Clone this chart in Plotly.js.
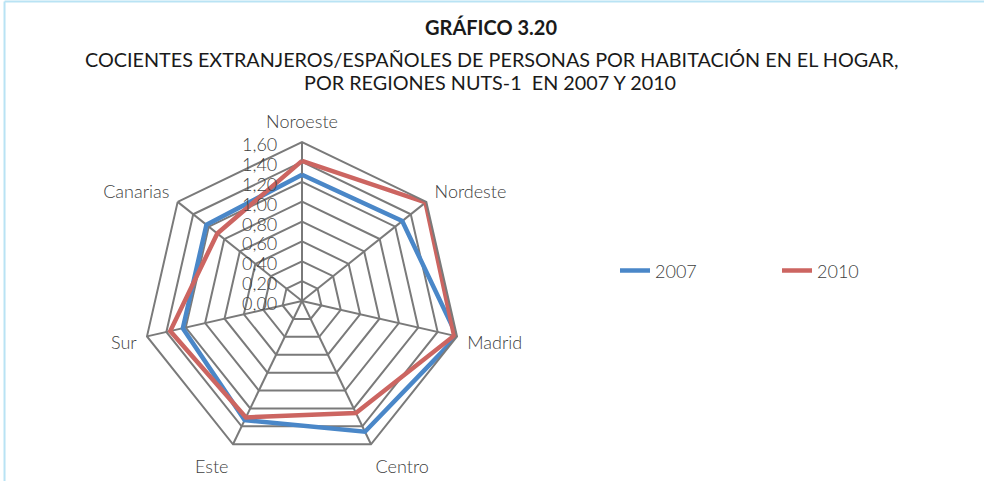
<!DOCTYPE html>
<html>
<head>
<meta charset="utf-8">
<script src="https://cdn.plot.ly/plotly-3.0.1.min.js"></script>
<style>
  html, body { margin: 0; padding: 0; background: #fff; }
  #chart { width: 984px; height: 481px; }
</style>
</head>
<body>
<div id="chart"></div>
<script>
const categories = ["Noroeste", "Nordeste", "Madrid", "Centro", "Este", "Sur", "Canarias"];
const values2007 = [1.27, 1.29, 1.60, 1.46, 1.33, 1.23, 1.23];
const values2010 = [1.41, 1.59, 1.57, 1.25, 1.30, 1.36, 1.09];
const seriesNames = ["2007", "2010"];
const radialTicks = [0, 0.2, 0.4, 0.6, 0.8, 1.0, 1.2, 1.4, 1.6];

const close = a => a.concat([a[0]]);
const FONT = "Lato, 'Open Sans', sans-serif";
const GRID = "#7a7a7a";
const TXT = "#404040";

const traces = [
  {
    type: "scatterpolar", mode: "lines", name: seriesNames[0],
    r: close(values2007), theta: close(categories),
    line: { color: "#4A87C8", width: 4.5 }
  },
  {
    type: "scatterpolar", mode: "lines", name: seriesNames[1],
    r: close(values2010), theta: close(categories),
    line: { color: "#CC6561", width: 4.5 }
  }
];

const layout = {
  width: 984, height: 481,
  margin: { l: 0, r: 0, t: 0, b: 0, autoexpand: false },
  paper_bgcolor: "#fff",
  separators: ",.",
  font: { family: FONT, color: TXT, size: 16, weight: 300 },
  showlegend: true,
  legend: {
    orientation: "h", x: 0.625, y: 0.437, xanchor: "left", yanchor: "middle",
    font: { family: FONT, size: 18, color: TXT, weight: 300 },
    entrywidth: 117, entrywidthmode: "pixels",
    bgcolor: "rgba(0,0,0,0)"
  },
  polar: {
    domain: { x: [143 / 984, 461 / 984], y: [1 - 460 / 481, 1 - 142 / 481] },
    gridshape: "linear",
    bgcolor: "#fff",
    angularaxis: {
      rotation: 90, direction: "clockwise",
      showline: true, linecolor: GRID, linewidth: 2,
      gridcolor: GRID, gridwidth: 2,
      ticks: "outside", ticklen: 6, tickcolor: "rgba(0,0,0,0)",
      tickfont: { family: FONT, size: 18, color: TXT, weight: 300 }
    },
    radialaxis: {
      range: [0, 1.6], tickvals: radialTicks, tickformat: ".2f",
      angle: 90, side: "counterclockwise",
      showline: false,
      ticks: "outside", ticklen: 8, tickcolor: "rgba(0,0,0,0)",
      gridcolor: GRID, gridwidth: 2,
      tickfont: { family: FONT, size: 18, color: TXT, weight: 300 }
    }
  },
  shapes: [
    { type: "line", xref: "paper", yref: "paper", x0: 0.0046, x1: 0.0046, y0: 0, y1: 0.997, line: { color: "#b9e3f4", width: 2 } },
    { type: "line", xref: "paper", yref: "paper", x0: 0.0046, x1: 1, y0: 0.997, y1: 0.997, line: { color: "#b9e3f4", width: 2 } }
  ],
  annotations: [
    { text: "<b>GRÁFICO 3.20</b>", xref: "paper", yref: "paper", x: 0.499, y: 1 - 27 / 481, yanchor: "middle", showarrow: false, font: { family: FONT, size: 20, color: "#1a1a1a", weight: 700 } },
    { text: "COCIENTES EXTRANJEROS/ESPAÑOLES DE PERSONAS POR HABITACIÓN EN EL HOGAR,", xref: "paper", yref: "paper", x: 0.499, y: 1 - 59 / 481, yanchor: "middle", showarrow: false, font: { family: FONT, size: 19.8, color: "#1a1a1a", weight: 400 } },
    { text: "POR REGIONES NUTS-1  EN 2007 Y 2010", xref: "paper", yref: "paper", x: 0.498, y: 1 - 82 / 481, yanchor: "middle", showarrow: false, font: { family: FONT, size: 19.8, color: "#1a1a1a", weight: 400 } }
  ]
};

Plotly.newPlot("chart", traces, layout, { displayModeBar: false, staticPlot: true });
</script>
</body>
</html>
